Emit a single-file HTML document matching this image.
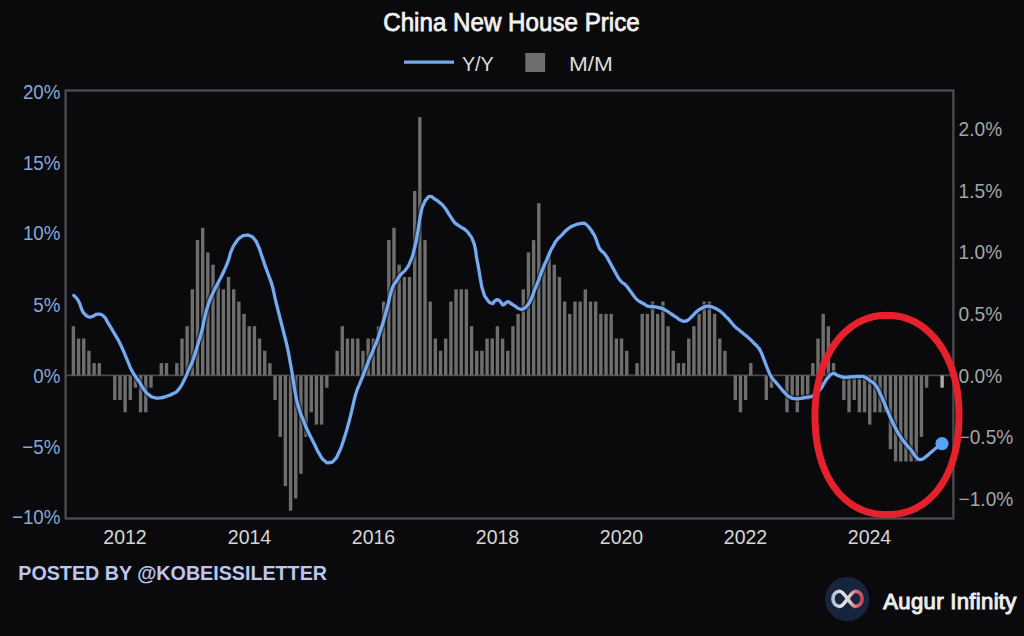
<!DOCTYPE html>
<html><head><meta charset="utf-8"><title>China New House Price</title>
<style>
html,body{margin:0;padding:0;background:#0a0a0d;width:1024px;height:636px;overflow:hidden}
svg{display:block}
text{font-family:'Liberation Sans', 'DejaVu Sans', sans-serif}
.yl{fill:#88a9d8;font-size:20.6px}
.yr{fill:#a6a6a6;font-size:20px}
.xl{fill:#d6d6d6;font-size:19.5px}
</style></head>
<body>
<svg width="1024" height="636" viewBox="0 0 1024 636">
<rect width="1024" height="636" fill="#0a0a0d"/>
<text x="383.2" y="31.2" textLength="256.5" lengthAdjust="spacingAndGlyphs" style="font-size:25.5px;fill:#f2f2f2;stroke:#f2f2f2;stroke-width:0.75px">China New House Price</text>
<line x1="404" y1="62.2" x2="454" y2="62.2" stroke="#76aae8" stroke-width="3.2"/>
<text x="461.9" y="70.8" textLength="31.9" lengthAdjust="spacingAndGlyphs" style="font-size:19.5px;fill:#dcdcdc">Y/Y</text>
<rect x="525.3" y="52.9" width="19.8" height="19.1" fill="#6e6e6e"/>
<text x="569" y="70.8" textLength="43.9" lengthAdjust="spacingAndGlyphs" style="font-size:19.5px;fill:#dcdcdc">M/M</text>
<rect x="65.6" y="90.5" width="887.8" height="428" fill="none" stroke="#4a4c51" stroke-width="2.3"/>
<line x1="65.6" y1="375.4" x2="953.4" y2="375.4" stroke="#48484d" stroke-width="1.7"/>
<rect x="71.70" y="326.20" width="3.4" height="49.20" fill="#6e6e6d"/>
<rect x="76.87" y="338.50" width="3.4" height="36.90" fill="#6e6e6d"/>
<rect x="82.04" y="338.50" width="3.4" height="36.90" fill="#6e6e6d"/>
<rect x="87.21" y="350.80" width="3.4" height="24.60" fill="#6e6e6d"/>
<rect x="92.38" y="363.10" width="3.4" height="12.30" fill="#6e6e6d"/>
<rect x="97.56" y="363.10" width="3.4" height="12.30" fill="#6e6e6d"/>
<rect x="113.07" y="375.40" width="3.4" height="24.60" fill="#6e6e6d"/>
<rect x="118.24" y="375.40" width="3.4" height="24.60" fill="#6e6e6d"/>
<rect x="123.41" y="375.40" width="3.4" height="36.90" fill="#6e6e6d"/>
<rect x="128.58" y="375.40" width="3.4" height="24.60" fill="#6e6e6d"/>
<rect x="133.75" y="375.40" width="3.4" height="12.30" fill="#6e6e6d"/>
<rect x="138.92" y="375.40" width="3.4" height="36.90" fill="#6e6e6d"/>
<rect x="144.09" y="375.40" width="3.4" height="36.90" fill="#6e6e6d"/>
<rect x="149.27" y="375.40" width="3.4" height="12.30" fill="#6e6e6d"/>
<rect x="159.61" y="363.10" width="3.4" height="12.30" fill="#6e6e6d"/>
<rect x="164.78" y="363.10" width="3.4" height="12.30" fill="#6e6e6d"/>
<rect x="175.12" y="363.10" width="3.4" height="12.30" fill="#6e6e6d"/>
<rect x="180.29" y="338.50" width="3.4" height="36.90" fill="#6e6e6d"/>
<rect x="185.46" y="326.20" width="3.4" height="49.20" fill="#6e6e6d"/>
<rect x="190.63" y="289.30" width="3.4" height="86.10" fill="#6e6e6d"/>
<rect x="195.80" y="240.10" width="3.4" height="135.30" fill="#6e6e6d"/>
<rect x="200.98" y="227.80" width="3.4" height="147.60" fill="#6e6e6d"/>
<rect x="206.15" y="252.40" width="3.4" height="123.00" fill="#6e6e6d"/>
<rect x="211.32" y="264.70" width="3.4" height="110.70" fill="#6e6e6d"/>
<rect x="216.49" y="283.15" width="3.4" height="92.25" fill="#6e6e6d"/>
<rect x="221.66" y="289.30" width="3.4" height="86.10" fill="#6e6e6d"/>
<rect x="226.83" y="277.00" width="3.4" height="98.40" fill="#6e6e6d"/>
<rect x="232.00" y="289.30" width="3.4" height="86.10" fill="#6e6e6d"/>
<rect x="237.17" y="301.60" width="3.4" height="73.80" fill="#6e6e6d"/>
<rect x="242.34" y="313.90" width="3.4" height="61.50" fill="#6e6e6d"/>
<rect x="247.51" y="326.20" width="3.4" height="49.20" fill="#6e6e6d"/>
<rect x="252.69" y="326.20" width="3.4" height="49.20" fill="#6e6e6d"/>
<rect x="257.86" y="338.50" width="3.4" height="36.90" fill="#6e6e6d"/>
<rect x="263.03" y="350.80" width="3.4" height="24.60" fill="#6e6e6d"/>
<rect x="268.20" y="363.10" width="3.4" height="12.30" fill="#6e6e6d"/>
<rect x="273.37" y="375.40" width="3.4" height="24.60" fill="#6e6e6d"/>
<rect x="278.54" y="375.40" width="3.4" height="61.50" fill="#6e6e6d"/>
<rect x="283.71" y="375.40" width="3.4" height="110.70" fill="#6e6e6d"/>
<rect x="288.88" y="375.40" width="3.4" height="135.30" fill="#6e6e6d"/>
<rect x="294.05" y="375.40" width="3.4" height="123.00" fill="#6e6e6d"/>
<rect x="299.22" y="375.40" width="3.4" height="98.40" fill="#6e6e6d"/>
<rect x="304.40" y="375.40" width="3.4" height="61.50" fill="#6e6e6d"/>
<rect x="309.57" y="375.40" width="3.4" height="36.90" fill="#6e6e6d"/>
<rect x="314.74" y="375.40" width="3.4" height="49.20" fill="#6e6e6d"/>
<rect x="319.91" y="375.40" width="3.4" height="49.20" fill="#6e6e6d"/>
<rect x="325.08" y="375.40" width="3.4" height="12.30" fill="#6e6e6d"/>
<rect x="335.42" y="350.80" width="3.4" height="24.60" fill="#6e6e6d"/>
<rect x="340.59" y="326.20" width="3.4" height="49.20" fill="#6e6e6d"/>
<rect x="345.76" y="338.50" width="3.4" height="36.90" fill="#6e6e6d"/>
<rect x="350.93" y="338.50" width="3.4" height="36.90" fill="#6e6e6d"/>
<rect x="356.11" y="338.50" width="3.4" height="36.90" fill="#6e6e6d"/>
<rect x="361.28" y="350.80" width="3.4" height="24.60" fill="#6e6e6d"/>
<rect x="366.45" y="338.50" width="3.4" height="36.90" fill="#6e6e6d"/>
<rect x="371.62" y="338.50" width="3.4" height="36.90" fill="#6e6e6d"/>
<rect x="376.79" y="326.20" width="3.4" height="49.20" fill="#6e6e6d"/>
<rect x="381.96" y="301.60" width="3.4" height="73.80" fill="#6e6e6d"/>
<rect x="387.13" y="240.10" width="3.4" height="135.30" fill="#6e6e6d"/>
<rect x="392.30" y="227.80" width="3.4" height="147.60" fill="#6e6e6d"/>
<rect x="397.47" y="264.70" width="3.4" height="110.70" fill="#6e6e6d"/>
<rect x="402.64" y="277.00" width="3.4" height="98.40" fill="#6e6e6d"/>
<rect x="407.81" y="277.00" width="3.4" height="98.40" fill="#6e6e6d"/>
<rect x="412.99" y="190.90" width="3.4" height="184.50" fill="#6e6e6d"/>
<rect x="418.16" y="117.10" width="3.4" height="258.30" fill="#6e6e6d"/>
<rect x="423.33" y="240.10" width="3.4" height="135.30" fill="#6e6e6d"/>
<rect x="428.50" y="301.60" width="3.4" height="73.80" fill="#6e6e6d"/>
<rect x="433.67" y="338.50" width="3.4" height="36.90" fill="#6e6e6d"/>
<rect x="438.84" y="350.80" width="3.4" height="24.60" fill="#6e6e6d"/>
<rect x="444.01" y="338.50" width="3.4" height="36.90" fill="#6e6e6d"/>
<rect x="449.18" y="301.60" width="3.4" height="73.80" fill="#6e6e6d"/>
<rect x="454.35" y="289.30" width="3.4" height="86.10" fill="#6e6e6d"/>
<rect x="459.53" y="289.30" width="3.4" height="86.10" fill="#6e6e6d"/>
<rect x="464.70" y="289.30" width="3.4" height="86.10" fill="#6e6e6d"/>
<rect x="469.87" y="326.20" width="3.4" height="49.20" fill="#6e6e6d"/>
<rect x="475.04" y="350.80" width="3.4" height="24.60" fill="#6e6e6d"/>
<rect x="480.21" y="350.80" width="3.4" height="24.60" fill="#6e6e6d"/>
<rect x="485.38" y="338.50" width="3.4" height="36.90" fill="#6e6e6d"/>
<rect x="490.55" y="338.50" width="3.4" height="36.90" fill="#6e6e6d"/>
<rect x="495.72" y="326.20" width="3.4" height="49.20" fill="#6e6e6d"/>
<rect x="500.89" y="338.50" width="3.4" height="36.90" fill="#6e6e6d"/>
<rect x="506.06" y="350.80" width="3.4" height="24.60" fill="#6e6e6d"/>
<rect x="511.24" y="326.20" width="3.4" height="49.20" fill="#6e6e6d"/>
<rect x="516.41" y="313.90" width="3.4" height="61.50" fill="#6e6e6d"/>
<rect x="521.58" y="289.30" width="3.4" height="86.10" fill="#6e6e6d"/>
<rect x="526.75" y="252.40" width="3.4" height="123.00" fill="#6e6e6d"/>
<rect x="531.92" y="240.10" width="3.4" height="135.30" fill="#6e6e6d"/>
<rect x="537.09" y="203.20" width="3.4" height="172.20" fill="#6e6e6d"/>
<rect x="542.26" y="264.70" width="3.4" height="110.70" fill="#6e6e6d"/>
<rect x="547.43" y="252.40" width="3.4" height="123.00" fill="#6e6e6d"/>
<rect x="552.60" y="264.70" width="3.4" height="110.70" fill="#6e6e6d"/>
<rect x="557.77" y="277.00" width="3.4" height="98.40" fill="#6e6e6d"/>
<rect x="562.94" y="301.60" width="3.4" height="73.80" fill="#6e6e6d"/>
<rect x="568.12" y="313.90" width="3.4" height="61.50" fill="#6e6e6d"/>
<rect x="573.29" y="301.60" width="3.4" height="73.80" fill="#6e6e6d"/>
<rect x="578.46" y="301.60" width="3.4" height="73.80" fill="#6e6e6d"/>
<rect x="583.63" y="289.30" width="3.4" height="86.10" fill="#6e6e6d"/>
<rect x="588.80" y="301.60" width="3.4" height="73.80" fill="#6e6e6d"/>
<rect x="593.97" y="301.60" width="3.4" height="73.80" fill="#6e6e6d"/>
<rect x="599.14" y="313.90" width="3.4" height="61.50" fill="#6e6e6d"/>
<rect x="604.31" y="313.90" width="3.4" height="61.50" fill="#6e6e6d"/>
<rect x="609.48" y="313.90" width="3.4" height="61.50" fill="#6e6e6d"/>
<rect x="614.65" y="338.50" width="3.4" height="36.90" fill="#6e6e6d"/>
<rect x="619.83" y="338.50" width="3.4" height="36.90" fill="#6e6e6d"/>
<rect x="625.00" y="350.80" width="3.4" height="24.60" fill="#6e6e6d"/>
<rect x="635.34" y="363.10" width="3.4" height="12.30" fill="#6e6e6d"/>
<rect x="640.51" y="313.90" width="3.4" height="61.50" fill="#6e6e6d"/>
<rect x="645.68" y="313.90" width="3.4" height="61.50" fill="#6e6e6d"/>
<rect x="650.85" y="301.60" width="3.4" height="73.80" fill="#6e6e6d"/>
<rect x="656.02" y="313.90" width="3.4" height="61.50" fill="#6e6e6d"/>
<rect x="661.19" y="301.60" width="3.4" height="73.80" fill="#6e6e6d"/>
<rect x="666.37" y="326.20" width="3.4" height="49.20" fill="#6e6e6d"/>
<rect x="671.54" y="350.80" width="3.4" height="24.60" fill="#6e6e6d"/>
<rect x="676.71" y="363.10" width="3.4" height="12.30" fill="#6e6e6d"/>
<rect x="681.88" y="363.10" width="3.4" height="12.30" fill="#6e6e6d"/>
<rect x="687.05" y="338.50" width="3.4" height="36.90" fill="#6e6e6d"/>
<rect x="692.22" y="326.20" width="3.4" height="49.20" fill="#6e6e6d"/>
<rect x="697.39" y="313.90" width="3.4" height="61.50" fill="#6e6e6d"/>
<rect x="702.56" y="301.60" width="3.4" height="73.80" fill="#6e6e6d"/>
<rect x="707.73" y="301.60" width="3.4" height="73.80" fill="#6e6e6d"/>
<rect x="712.90" y="313.90" width="3.4" height="61.50" fill="#6e6e6d"/>
<rect x="718.07" y="338.50" width="3.4" height="36.90" fill="#6e6e6d"/>
<rect x="723.25" y="350.80" width="3.4" height="24.60" fill="#6e6e6d"/>
<rect x="733.59" y="375.40" width="3.4" height="24.60" fill="#6e6e6d"/>
<rect x="738.76" y="375.40" width="3.4" height="36.90" fill="#6e6e6d"/>
<rect x="743.93" y="375.40" width="3.4" height="24.60" fill="#6e6e6d"/>
<rect x="749.10" y="363.10" width="3.4" height="12.30" fill="#6e6e6d"/>
<rect x="764.61" y="375.40" width="3.4" height="24.60" fill="#6e6e6d"/>
<rect x="769.78" y="375.40" width="3.4" height="12.30" fill="#6e6e6d"/>
<rect x="785.30" y="375.40" width="3.4" height="36.90" fill="#6e6e6d"/>
<rect x="790.47" y="375.40" width="3.4" height="24.60" fill="#6e6e6d"/>
<rect x="795.64" y="375.40" width="3.4" height="36.90" fill="#6e6e6d"/>
<rect x="800.81" y="375.40" width="3.4" height="24.60" fill="#6e6e6d"/>
<rect x="805.98" y="375.40" width="3.4" height="24.60" fill="#6e6e6d"/>
<rect x="811.15" y="363.10" width="3.4" height="12.30" fill="#6e6e6d"/>
<rect x="816.32" y="338.50" width="3.4" height="36.90" fill="#6e6e6d"/>
<rect x="821.50" y="313.90" width="3.4" height="61.50" fill="#6e6e6d"/>
<rect x="826.67" y="326.20" width="3.4" height="49.20" fill="#6e6e6d"/>
<rect x="831.84" y="363.10" width="3.4" height="12.30" fill="#6e6e6d"/>
<rect x="842.18" y="375.40" width="3.4" height="24.60" fill="#6e6e6d"/>
<rect x="847.35" y="375.40" width="3.4" height="36.90" fill="#6e6e6d"/>
<rect x="852.52" y="375.40" width="3.4" height="24.60" fill="#6e6e6d"/>
<rect x="857.69" y="375.40" width="3.4" height="36.90" fill="#6e6e6d"/>
<rect x="862.86" y="375.40" width="3.4" height="36.90" fill="#6e6e6d"/>
<rect x="868.03" y="375.40" width="3.4" height="49.20" fill="#6e6e6d"/>
<rect x="873.20" y="375.40" width="3.4" height="36.90" fill="#6e6e6d"/>
<rect x="878.38" y="375.40" width="3.4" height="36.90" fill="#6e6e6d"/>
<rect x="883.55" y="375.40" width="3.4" height="36.90" fill="#6e6e6d"/>
<rect x="888.72" y="375.40" width="3.4" height="73.80" fill="#6e6e6d"/>
<rect x="893.89" y="375.40" width="3.4" height="86.10" fill="#6e6e6d"/>
<rect x="899.06" y="375.40" width="3.4" height="86.10" fill="#6e6e6d"/>
<rect x="904.23" y="375.40" width="3.4" height="86.10" fill="#6e6e6d"/>
<rect x="909.40" y="375.40" width="3.4" height="86.10" fill="#6e6e6d"/>
<rect x="914.57" y="375.40" width="3.4" height="86.10" fill="#6e6e6d"/>
<rect x="919.74" y="375.40" width="3.4" height="61.50" fill="#6e6e6d"/>
<rect x="924.91" y="375.40" width="3.4" height="12.30" fill="#6e6e6d"/>
<rect x="940.43" y="375.40" width="3.4" height="12.30" fill="#a9a9a9"/>
<path d="M73.9,295.4 C75.4,297.3 75.9,296.3 78.5,301.0 C81.1,305.7 79.8,305.3 81.8,309.5 C83.8,313.7 82.1,311.2 84.4,313.6 C86.7,316.0 85.9,315.9 88.6,316.8 C91.3,317.7 89.4,317.2 92.6,316.3 C95.8,315.4 94.4,314.1 98.1,314.1 C101.8,314.1 100.3,313.4 103.6,316.3 C106.9,319.2 104.3,317.0 108.0,322.9 C111.7,328.8 110.2,326.2 114.6,333.9 C119.0,341.6 116.8,336.8 121.2,346.0 C125.6,355.2 124.1,353.0 127.8,361.4 C131.5,369.8 128.5,364.7 132.2,371.3 C135.9,377.9 134.6,374.8 138.8,381.2 C143.0,387.6 141.2,385.8 144.7,390.4 C148.2,395.0 146.2,392.7 149.4,395.1 C152.6,397.5 150.5,396.6 154.2,397.5 C157.9,398.4 156.2,398.2 160.4,397.8 C164.6,397.4 162.5,397.6 166.7,396.2 C170.9,394.8 169.1,395.8 173.0,393.6 C176.9,391.4 174.8,394.1 178.5,389.6 C182.2,385.1 180.7,386.7 184.2,380.0 C187.7,373.3 185.8,376.7 188.9,369.4 C192.0,362.1 190.5,366.9 193.6,358.1 C196.7,349.3 195.5,352.4 198.3,343.0 C201.1,333.6 199.9,338.6 202.1,329.8 C204.3,321.0 202.7,325.4 204.9,316.6 C207.1,307.8 205.9,311.6 208.7,303.4 C211.5,295.2 209.9,299.6 213.4,292.1 C216.9,284.6 215.6,287.7 219.1,280.8 C222.6,273.9 220.7,278.2 223.8,271.3 C226.9,264.4 226.0,266.9 228.5,260.0 C231.0,253.1 228.8,256.7 231.4,250.7 C234.0,244.7 233.0,246.5 236.2,242.0 C239.4,237.5 237.8,239.4 240.9,237.2 C244.0,235.0 242.5,235.7 245.6,235.3 C248.7,234.9 247.3,234.6 250.3,236.0 C253.3,237.4 252.0,236.2 254.6,239.4 C257.2,242.6 255.8,240.6 258.0,245.5 C260.2,250.4 259.1,248.2 261.2,254.2 C263.3,260.2 262.1,256.9 264.4,263.6 C266.7,270.3 265.6,266.7 268.2,274.2 C270.8,281.7 269.9,277.4 272.3,286.0 C274.7,294.6 273.1,290.1 275.5,300.0 C277.9,309.9 276.8,305.2 279.4,315.7 C282.0,326.2 280.8,320.9 283.4,331.4 C286.0,341.9 284.9,336.3 287.3,347.2 C289.7,358.1 288.5,353.1 290.5,364.0 C292.5,374.9 291.5,370.0 293.2,380.0 C294.9,390.0 293.6,384.6 295.5,394.0 C297.4,403.4 296.2,399.3 298.9,408.3 C301.6,417.3 300.5,413.0 303.6,420.9 C306.7,428.8 304.9,424.6 308.3,431.9 C311.7,439.2 310.1,435.6 313.8,442.9 C317.5,450.2 315.6,447.9 319.3,453.9 C323.0,459.9 321.4,458.1 324.8,461.0 C328.2,463.9 326.4,462.8 329.5,462.5 C332.6,462.2 331.0,463.6 334.2,460.2 C337.4,456.8 335.8,459.1 339.0,452.3 C342.2,445.5 340.6,449.1 343.7,439.7 C346.8,430.3 345.5,434.5 348.4,424.0 C351.3,413.5 349.8,418.5 352.3,408.3 C354.8,398.1 353.4,401.9 356.0,393.5 C358.6,385.1 357.2,390.1 360.0,383.0 C362.8,375.9 361.3,380.1 364.3,372.3 C367.3,364.5 366.2,367.1 369.1,359.7 C372.0,352.3 369.4,359.6 373.1,350.2 C376.8,340.8 375.5,345.5 380.2,331.4 C384.9,317.3 383.4,321.6 387.2,307.8 C391.0,294.0 388.6,298.9 391.7,290.0 C394.8,281.1 393.2,286.5 396.4,281.2 C399.6,275.9 398.0,278.0 401.2,274.1 C404.4,270.2 402.8,273.8 405.9,269.4 C409.0,265.0 407.7,267.9 410.6,260.8 C413.5,253.7 412.1,257.6 414.5,248.2 C416.9,238.8 415.6,244.0 417.7,232.5 C419.8,221.0 418.7,223.3 420.8,213.6 C422.9,203.9 421.9,208.4 424.0,203.4 C426.1,198.4 425.0,201.0 427.1,198.6 C429.2,196.2 427.9,196.3 430.3,196.3 C432.7,196.3 431.1,196.5 434.2,198.6 C437.3,200.7 436.3,199.7 439.7,202.6 C443.1,205.5 441.3,203.4 444.4,207.3 C447.5,211.2 446.0,209.7 449.1,214.4 C452.2,219.1 451.4,218.2 453.8,221.4 C456.2,224.6 453.9,222.0 456.3,223.9 C458.7,225.8 457.9,225.0 461.0,227.1 C464.1,229.2 462.8,227.6 465.7,230.2 C468.6,232.8 467.3,231.5 469.7,234.9 C472.1,238.3 471.0,235.9 472.8,240.4 C474.6,244.9 473.9,242.5 475.2,248.3 C476.5,254.1 475.4,250.9 476.6,257.7 C477.8,264.5 477.3,260.8 478.7,268.7 C480.1,276.6 479.4,273.9 480.8,281.3 C482.2,288.7 481.2,285.1 483.0,290.8 C484.8,296.5 483.4,294.1 486.3,298.3 C489.2,302.5 488.9,302.4 491.7,303.3 C494.5,304.2 492.7,302.1 494.8,301.0 C496.9,299.9 495.9,299.4 498.0,299.9 C500.1,300.4 499.3,300.8 501.1,302.5 C502.9,304.2 501.4,305.1 503.5,304.9 C505.6,304.7 505.1,302.3 507.4,301.8 C509.7,301.3 508.1,302.0 510.5,303.3 C512.9,304.6 511.6,303.9 514.5,305.7 C517.4,307.5 516.3,307.8 519.2,308.8 C522.1,309.8 520.5,309.8 523.1,308.8 C525.7,307.8 524.4,308.8 527.0,305.7 C529.6,302.6 528.4,304.9 531.0,299.4 C533.6,293.9 532.3,295.8 534.9,289.2 C537.5,282.6 536.2,286.5 538.8,279.7 C541.4,272.9 540.1,275.5 542.8,268.7 C545.5,261.9 544.3,265.2 546.9,259.3 C549.5,253.4 548.5,255.3 550.5,251.0 C552.5,246.7 551.0,250.0 553.0,246.5 C555.0,243.0 553.5,244.4 556.5,240.5 C559.5,236.6 558.1,238.8 562.0,234.8 C565.9,230.8 563.9,231.9 568.3,228.6 C572.7,225.3 571.3,226.6 575.2,224.9 C579.1,223.2 577.5,224.1 580.0,223.6 C582.5,223.1 580.7,223.1 582.7,223.3 C584.7,223.5 583.4,222.3 585.9,224.2 C588.4,226.1 588.1,226.2 590.3,229.0 C592.5,231.8 590.9,229.8 592.6,232.6 C594.3,235.4 593.3,232.9 595.3,237.4 C597.3,241.9 596.7,242.0 598.5,246.2 C600.3,250.4 598.7,247.5 600.8,250.1 C602.9,252.7 602.1,250.6 604.7,254.0 C607.3,257.4 606.1,255.8 608.7,260.3 C611.3,264.8 610.0,262.7 612.6,267.4 C615.2,272.1 613.9,270.0 616.5,274.5 C619.1,279.0 617.6,277.4 620.5,280.8 C623.4,284.2 622.3,281.8 625.2,284.7 C628.1,287.6 626.5,286.0 629.1,289.4 C631.7,292.8 630.5,291.5 633.1,294.9 C635.7,298.3 634.5,297.2 637.0,299.6 C639.5,302.0 638.2,300.6 640.5,302.0 C642.8,303.4 641.4,302.4 643.9,303.8 C646.4,305.2 645.0,305.3 647.9,306.2 C650.8,307.1 649.5,306.1 652.6,306.5 C655.7,306.9 654.2,306.7 657.3,307.4 C660.4,308.1 658.9,307.3 662.0,308.5 C665.1,309.7 663.6,309.1 666.7,310.9 C669.8,312.7 668.2,311.9 671.4,314.0 C674.6,316.1 673.0,315.1 676.2,317.2 C679.4,319.3 678.0,319.0 680.9,320.3 C683.8,321.6 682.2,321.4 684.8,321.1 C687.4,320.8 686.1,321.3 688.7,319.5 C691.3,317.7 690.1,318.2 692.7,315.6 C695.3,313.0 693.7,314.1 696.6,311.7 C699.5,309.3 698.2,310.2 701.3,308.5 C704.4,306.8 703.1,307.2 706.0,306.5 C708.9,305.8 707.4,306.1 710.0,306.5 C712.6,306.9 711.0,306.5 713.9,307.7 C716.8,308.9 716.0,308.5 718.6,310.1 C721.2,311.7 719.4,310.4 721.8,312.5 C724.2,314.6 723.1,313.8 725.7,316.4 C728.3,319.0 726.6,317.0 729.6,320.3 C732.6,323.6 731.4,323.0 734.7,326.3 C738.0,329.6 736.2,327.6 739.4,330.2 C742.6,332.8 741.0,331.6 744.2,334.2 C747.4,336.8 745.8,335.2 748.9,338.1 C752.0,341.0 750.7,339.9 753.6,342.8 C756.5,345.7 755.1,343.8 757.5,346.7 C759.9,349.6 758.9,348.0 760.7,351.4 C762.5,354.8 761.4,353.1 763.0,357.0 C764.6,360.9 763.6,358.5 765.4,363.2 C767.2,367.9 766.4,366.4 768.5,371.1 C770.6,375.8 769.3,373.7 771.7,377.4 C774.1,381.1 772.7,378.7 775.6,382.1 C778.5,385.5 777.2,383.9 780.3,387.6 C783.4,391.3 781.9,390.0 785.0,393.1 C788.1,396.2 786.5,395.2 789.7,397.0 C792.9,398.8 791.3,398.1 794.5,398.6 C797.7,399.1 796.1,398.9 799.2,398.6 C802.3,398.3 800.8,398.3 803.9,397.8 C807.0,397.3 805.7,397.6 808.6,397.0 C811.5,396.4 809.9,397.5 812.5,396.0 C815.1,394.5 813.9,394.8 816.5,392.5 C819.1,390.2 817.8,392.4 820.4,389.2 C823.0,386.0 821.8,386.8 824.3,382.9 C826.8,379.0 825.1,380.6 828.0,377.5 C830.9,374.4 829.9,374.3 833.0,373.5 C836.1,372.7 834.1,374.0 837.3,375.2 C840.5,376.4 838.5,376.4 842.5,377.0 C846.5,377.6 843.6,377.2 849.4,377.0 C855.2,376.8 854.6,376.3 859.8,376.4 C865.0,376.5 861.5,375.8 865.0,377.3 C868.5,378.8 866.7,378.2 870.2,380.8 C873.7,383.4 871.9,380.5 875.4,385.1 C878.9,389.7 877.1,387.4 880.6,394.6 C884.1,401.8 882.3,398.6 885.8,406.7 C889.3,414.8 887.6,411.3 891.0,418.8 C894.4,426.3 892.7,422.8 896.1,429.2 C899.5,435.6 897.8,432.7 901.3,437.9 C904.8,443.1 903.0,440.5 906.5,444.8 C910.0,449.1 908.5,446.8 911.7,450.8 C914.9,454.8 913.1,454.0 916.0,456.9 C918.9,459.8 917.2,459.5 920.4,459.5 C923.6,459.5 922.2,459.2 925.6,456.9 C929.0,454.6 927.3,455.5 930.7,452.6 C934.1,449.7 932.1,451.3 935.9,448.3 C939.7,445.3 940.0,445.2 942.0,443.6" fill="none" stroke="#000a2a" stroke-opacity="0.5" stroke-width="6.5" stroke-linejoin="round" stroke-linecap="round"/>
<path d="M73.9,295.4 C75.4,297.3 75.9,296.3 78.5,301.0 C81.1,305.7 79.8,305.3 81.8,309.5 C83.8,313.7 82.1,311.2 84.4,313.6 C86.7,316.0 85.9,315.9 88.6,316.8 C91.3,317.7 89.4,317.2 92.6,316.3 C95.8,315.4 94.4,314.1 98.1,314.1 C101.8,314.1 100.3,313.4 103.6,316.3 C106.9,319.2 104.3,317.0 108.0,322.9 C111.7,328.8 110.2,326.2 114.6,333.9 C119.0,341.6 116.8,336.8 121.2,346.0 C125.6,355.2 124.1,353.0 127.8,361.4 C131.5,369.8 128.5,364.7 132.2,371.3 C135.9,377.9 134.6,374.8 138.8,381.2 C143.0,387.6 141.2,385.8 144.7,390.4 C148.2,395.0 146.2,392.7 149.4,395.1 C152.6,397.5 150.5,396.6 154.2,397.5 C157.9,398.4 156.2,398.2 160.4,397.8 C164.6,397.4 162.5,397.6 166.7,396.2 C170.9,394.8 169.1,395.8 173.0,393.6 C176.9,391.4 174.8,394.1 178.5,389.6 C182.2,385.1 180.7,386.7 184.2,380.0 C187.7,373.3 185.8,376.7 188.9,369.4 C192.0,362.1 190.5,366.9 193.6,358.1 C196.7,349.3 195.5,352.4 198.3,343.0 C201.1,333.6 199.9,338.6 202.1,329.8 C204.3,321.0 202.7,325.4 204.9,316.6 C207.1,307.8 205.9,311.6 208.7,303.4 C211.5,295.2 209.9,299.6 213.4,292.1 C216.9,284.6 215.6,287.7 219.1,280.8 C222.6,273.9 220.7,278.2 223.8,271.3 C226.9,264.4 226.0,266.9 228.5,260.0 C231.0,253.1 228.8,256.7 231.4,250.7 C234.0,244.7 233.0,246.5 236.2,242.0 C239.4,237.5 237.8,239.4 240.9,237.2 C244.0,235.0 242.5,235.7 245.6,235.3 C248.7,234.9 247.3,234.6 250.3,236.0 C253.3,237.4 252.0,236.2 254.6,239.4 C257.2,242.6 255.8,240.6 258.0,245.5 C260.2,250.4 259.1,248.2 261.2,254.2 C263.3,260.2 262.1,256.9 264.4,263.6 C266.7,270.3 265.6,266.7 268.2,274.2 C270.8,281.7 269.9,277.4 272.3,286.0 C274.7,294.6 273.1,290.1 275.5,300.0 C277.9,309.9 276.8,305.2 279.4,315.7 C282.0,326.2 280.8,320.9 283.4,331.4 C286.0,341.9 284.9,336.3 287.3,347.2 C289.7,358.1 288.5,353.1 290.5,364.0 C292.5,374.9 291.5,370.0 293.2,380.0 C294.9,390.0 293.6,384.6 295.5,394.0 C297.4,403.4 296.2,399.3 298.9,408.3 C301.6,417.3 300.5,413.0 303.6,420.9 C306.7,428.8 304.9,424.6 308.3,431.9 C311.7,439.2 310.1,435.6 313.8,442.9 C317.5,450.2 315.6,447.9 319.3,453.9 C323.0,459.9 321.4,458.1 324.8,461.0 C328.2,463.9 326.4,462.8 329.5,462.5 C332.6,462.2 331.0,463.6 334.2,460.2 C337.4,456.8 335.8,459.1 339.0,452.3 C342.2,445.5 340.6,449.1 343.7,439.7 C346.8,430.3 345.5,434.5 348.4,424.0 C351.3,413.5 349.8,418.5 352.3,408.3 C354.8,398.1 353.4,401.9 356.0,393.5 C358.6,385.1 357.2,390.1 360.0,383.0 C362.8,375.9 361.3,380.1 364.3,372.3 C367.3,364.5 366.2,367.1 369.1,359.7 C372.0,352.3 369.4,359.6 373.1,350.2 C376.8,340.8 375.5,345.5 380.2,331.4 C384.9,317.3 383.4,321.6 387.2,307.8 C391.0,294.0 388.6,298.9 391.7,290.0 C394.8,281.1 393.2,286.5 396.4,281.2 C399.6,275.9 398.0,278.0 401.2,274.1 C404.4,270.2 402.8,273.8 405.9,269.4 C409.0,265.0 407.7,267.9 410.6,260.8 C413.5,253.7 412.1,257.6 414.5,248.2 C416.9,238.8 415.6,244.0 417.7,232.5 C419.8,221.0 418.7,223.3 420.8,213.6 C422.9,203.9 421.9,208.4 424.0,203.4 C426.1,198.4 425.0,201.0 427.1,198.6 C429.2,196.2 427.9,196.3 430.3,196.3 C432.7,196.3 431.1,196.5 434.2,198.6 C437.3,200.7 436.3,199.7 439.7,202.6 C443.1,205.5 441.3,203.4 444.4,207.3 C447.5,211.2 446.0,209.7 449.1,214.4 C452.2,219.1 451.4,218.2 453.8,221.4 C456.2,224.6 453.9,222.0 456.3,223.9 C458.7,225.8 457.9,225.0 461.0,227.1 C464.1,229.2 462.8,227.6 465.7,230.2 C468.6,232.8 467.3,231.5 469.7,234.9 C472.1,238.3 471.0,235.9 472.8,240.4 C474.6,244.9 473.9,242.5 475.2,248.3 C476.5,254.1 475.4,250.9 476.6,257.7 C477.8,264.5 477.3,260.8 478.7,268.7 C480.1,276.6 479.4,273.9 480.8,281.3 C482.2,288.7 481.2,285.1 483.0,290.8 C484.8,296.5 483.4,294.1 486.3,298.3 C489.2,302.5 488.9,302.4 491.7,303.3 C494.5,304.2 492.7,302.1 494.8,301.0 C496.9,299.9 495.9,299.4 498.0,299.9 C500.1,300.4 499.3,300.8 501.1,302.5 C502.9,304.2 501.4,305.1 503.5,304.9 C505.6,304.7 505.1,302.3 507.4,301.8 C509.7,301.3 508.1,302.0 510.5,303.3 C512.9,304.6 511.6,303.9 514.5,305.7 C517.4,307.5 516.3,307.8 519.2,308.8 C522.1,309.8 520.5,309.8 523.1,308.8 C525.7,307.8 524.4,308.8 527.0,305.7 C529.6,302.6 528.4,304.9 531.0,299.4 C533.6,293.9 532.3,295.8 534.9,289.2 C537.5,282.6 536.2,286.5 538.8,279.7 C541.4,272.9 540.1,275.5 542.8,268.7 C545.5,261.9 544.3,265.2 546.9,259.3 C549.5,253.4 548.5,255.3 550.5,251.0 C552.5,246.7 551.0,250.0 553.0,246.5 C555.0,243.0 553.5,244.4 556.5,240.5 C559.5,236.6 558.1,238.8 562.0,234.8 C565.9,230.8 563.9,231.9 568.3,228.6 C572.7,225.3 571.3,226.6 575.2,224.9 C579.1,223.2 577.5,224.1 580.0,223.6 C582.5,223.1 580.7,223.1 582.7,223.3 C584.7,223.5 583.4,222.3 585.9,224.2 C588.4,226.1 588.1,226.2 590.3,229.0 C592.5,231.8 590.9,229.8 592.6,232.6 C594.3,235.4 593.3,232.9 595.3,237.4 C597.3,241.9 596.7,242.0 598.5,246.2 C600.3,250.4 598.7,247.5 600.8,250.1 C602.9,252.7 602.1,250.6 604.7,254.0 C607.3,257.4 606.1,255.8 608.7,260.3 C611.3,264.8 610.0,262.7 612.6,267.4 C615.2,272.1 613.9,270.0 616.5,274.5 C619.1,279.0 617.6,277.4 620.5,280.8 C623.4,284.2 622.3,281.8 625.2,284.7 C628.1,287.6 626.5,286.0 629.1,289.4 C631.7,292.8 630.5,291.5 633.1,294.9 C635.7,298.3 634.5,297.2 637.0,299.6 C639.5,302.0 638.2,300.6 640.5,302.0 C642.8,303.4 641.4,302.4 643.9,303.8 C646.4,305.2 645.0,305.3 647.9,306.2 C650.8,307.1 649.5,306.1 652.6,306.5 C655.7,306.9 654.2,306.7 657.3,307.4 C660.4,308.1 658.9,307.3 662.0,308.5 C665.1,309.7 663.6,309.1 666.7,310.9 C669.8,312.7 668.2,311.9 671.4,314.0 C674.6,316.1 673.0,315.1 676.2,317.2 C679.4,319.3 678.0,319.0 680.9,320.3 C683.8,321.6 682.2,321.4 684.8,321.1 C687.4,320.8 686.1,321.3 688.7,319.5 C691.3,317.7 690.1,318.2 692.7,315.6 C695.3,313.0 693.7,314.1 696.6,311.7 C699.5,309.3 698.2,310.2 701.3,308.5 C704.4,306.8 703.1,307.2 706.0,306.5 C708.9,305.8 707.4,306.1 710.0,306.5 C712.6,306.9 711.0,306.5 713.9,307.7 C716.8,308.9 716.0,308.5 718.6,310.1 C721.2,311.7 719.4,310.4 721.8,312.5 C724.2,314.6 723.1,313.8 725.7,316.4 C728.3,319.0 726.6,317.0 729.6,320.3 C732.6,323.6 731.4,323.0 734.7,326.3 C738.0,329.6 736.2,327.6 739.4,330.2 C742.6,332.8 741.0,331.6 744.2,334.2 C747.4,336.8 745.8,335.2 748.9,338.1 C752.0,341.0 750.7,339.9 753.6,342.8 C756.5,345.7 755.1,343.8 757.5,346.7 C759.9,349.6 758.9,348.0 760.7,351.4 C762.5,354.8 761.4,353.1 763.0,357.0 C764.6,360.9 763.6,358.5 765.4,363.2 C767.2,367.9 766.4,366.4 768.5,371.1 C770.6,375.8 769.3,373.7 771.7,377.4 C774.1,381.1 772.7,378.7 775.6,382.1 C778.5,385.5 777.2,383.9 780.3,387.6 C783.4,391.3 781.9,390.0 785.0,393.1 C788.1,396.2 786.5,395.2 789.7,397.0 C792.9,398.8 791.3,398.1 794.5,398.6 C797.7,399.1 796.1,398.9 799.2,398.6 C802.3,398.3 800.8,398.3 803.9,397.8 C807.0,397.3 805.7,397.6 808.6,397.0 C811.5,396.4 809.9,397.5 812.5,396.0 C815.1,394.5 813.9,394.8 816.5,392.5 C819.1,390.2 817.8,392.4 820.4,389.2 C823.0,386.0 821.8,386.8 824.3,382.9 C826.8,379.0 825.1,380.6 828.0,377.5 C830.9,374.4 829.9,374.3 833.0,373.5 C836.1,372.7 834.1,374.0 837.3,375.2 C840.5,376.4 838.5,376.4 842.5,377.0 C846.5,377.6 843.6,377.2 849.4,377.0 C855.2,376.8 854.6,376.3 859.8,376.4 C865.0,376.5 861.5,375.8 865.0,377.3 C868.5,378.8 866.7,378.2 870.2,380.8 C873.7,383.4 871.9,380.5 875.4,385.1 C878.9,389.7 877.1,387.4 880.6,394.6 C884.1,401.8 882.3,398.6 885.8,406.7 C889.3,414.8 887.6,411.3 891.0,418.8 C894.4,426.3 892.7,422.8 896.1,429.2 C899.5,435.6 897.8,432.7 901.3,437.9 C904.8,443.1 903.0,440.5 906.5,444.8 C910.0,449.1 908.5,446.8 911.7,450.8 C914.9,454.8 913.1,454.0 916.0,456.9 C918.9,459.8 917.2,459.5 920.4,459.5 C923.6,459.5 922.2,459.2 925.6,456.9 C929.0,454.6 927.3,455.5 930.7,452.6 C934.1,449.7 932.1,451.3 935.9,448.3 C939.7,445.3 940.0,445.2 942.0,443.6" fill="none" stroke="#76aae8" stroke-width="3.3" stroke-linejoin="round" stroke-linecap="round"/>
<circle cx="942" cy="443.6" r="6.6" fill="#54a3f6"/>
<text transform="translate(60.4,99.1) scale(0.91,1)" text-anchor="end" class="yl">20%</text>
<text transform="translate(60.4,169.5) scale(0.91,1)" text-anchor="end" class="yl">15%</text>
<text transform="translate(60.4,240.1) scale(0.91,1)" text-anchor="end" class="yl">10%</text>
<text transform="translate(60.4,311.6) scale(0.91,1)" text-anchor="end" class="yl">5%</text>
<text transform="translate(60.4,382.7) scale(0.91,1)" text-anchor="end" class="yl">0%</text>
<text transform="translate(60.4,453.8) scale(0.91,1)" text-anchor="end" class="yl">−5%</text>
<text transform="translate(60.4,524.3) scale(0.91,1)" text-anchor="end" class="yl">−10%</text>
<text transform="translate(958.6,136.3) scale(0.955,1)" class="yr">2.0%</text>
<text transform="translate(958.6,197.8) scale(0.955,1)" class="yr">1.5%</text>
<text transform="translate(958.6,259.3) scale(0.955,1)" class="yr">1.0%</text>
<text transform="translate(958.6,320.8) scale(0.955,1)" class="yr">0.5%</text>
<text transform="translate(958.6,382.5) scale(0.955,1)" class="yr">0.0%</text>
<text transform="translate(958.6,444.2) scale(0.955,1)" class="yr">−0.5%</text>
<text transform="translate(958.6,505.7) scale(0.955,1)" class="yr">−1.0%</text>
<text x="125" y="543.8" text-anchor="middle" class="xl">2012</text>
<text x="249.5" y="543.8" text-anchor="middle" class="xl">2014</text>
<text x="373.5" y="543.8" text-anchor="middle" class="xl">2016</text>
<text x="497.5" y="543.8" text-anchor="middle" class="xl">2018</text>
<text x="621.5" y="543.8" text-anchor="middle" class="xl">2020</text>
<text x="745.5" y="543.8" text-anchor="middle" class="xl">2022</text>
<text x="869.5" y="543.8" text-anchor="middle" class="xl">2024</text>
<path d="M959.0,414.9 L959.0,419.6 L958.8,423.8 L958.6,427.7 L958.4,431.5 L958.0,435.2 L957.6,438.8 L957.1,442.3 L956.5,445.8 L955.8,449.1 L955.0,452.5 L954.2,455.7 L953.3,458.9 L952.3,462.0 L951.3,465.0 L950.2,467.9 L949.0,470.8 L947.7,473.6 L946.4,476.3 L945.0,479.0 L943.5,481.5 L942.0,484.0 L940.4,486.4 L938.7,488.7 L937.0,490.9 L935.2,493.1 L933.3,495.1 L931.4,497.0 L929.4,498.9 L927.4,500.6 L925.3,502.3 L923.2,503.8 L921.0,505.3 L918.8,506.6 L916.5,507.9 L914.1,509.0 L911.8,510.1 L909.3,511.0 L906.8,511.8 L904.3,512.5 L901.7,513.1 L899.0,513.6 L896.2,514.0 L893.4,514.3 L890.4,514.4 L887.0,514.5 L883.6,514.4 L880.6,514.3 L877.8,514.0 L875.0,513.6 L872.3,513.1 L869.7,512.5 L867.2,511.8 L864.7,511.0 L862.2,510.1 L859.9,509.0 L857.5,507.9 L855.2,506.6 L853.0,505.3 L850.8,503.8 L848.7,502.3 L846.6,500.6 L844.6,498.9 L842.6,497.0 L840.7,495.1 L838.8,493.1 L837.0,490.9 L835.3,488.7 L833.6,486.4 L832.0,484.0 L830.5,481.5 L829.0,479.0 L827.6,476.3 L826.3,473.6 L825.0,470.8 L823.8,467.9 L822.7,465.0 L821.7,462.0 L820.7,458.9 L819.8,455.7 L819.0,452.5 L818.2,449.1 L817.5,445.8 L816.9,442.3 L816.4,438.8 L816.0,435.2 L815.6,431.5 L815.4,427.7 L815.2,423.8 L815.0,419.6 L815.0,414.9 L815.0,410.8 L815.2,407.0 L815.4,403.3 L815.7,399.7 L816.0,396.1 L816.5,392.6 L817.0,389.1 L817.7,385.7 L818.4,382.4 L819.1,379.0 L820.0,375.8 L820.9,372.6 L822.0,369.5 L823.0,366.4 L824.2,363.4 L825.5,360.5 L826.8,357.6 L828.2,354.9 L829.6,352.1 L831.1,349.5 L832.7,347.0 L834.4,344.5 L836.1,342.1 L837.9,339.8 L839.7,337.6 L841.6,335.5 L843.6,333.5 L845.6,331.6 L847.7,329.8 L849.8,328.1 L852.0,326.4 L854.2,324.9 L856.4,323.5 L858.7,322.2 L861.1,321.0 L863.5,319.9 L865.9,319.0 L868.4,318.1 L870.9,317.4 L873.4,316.7 L876.0,316.2 L878.6,315.8 L881.3,315.5 L884.1,315.4 L887.0,315.3 L889.9,315.4 L892.7,315.5 L895.4,315.8 L898.0,316.2 L900.6,316.7 L903.1,317.4 L905.6,318.1 L908.1,319.0 L910.5,319.9 L912.9,321.0 L915.3,322.2 L917.6,323.5 L919.8,324.9 L922.0,326.4 L924.2,328.1 L926.3,329.8 L928.4,331.6 L930.4,333.5 L932.4,335.5 L934.3,337.6 L936.1,339.8 L937.9,342.1 L939.6,344.5 L941.3,347.0 L942.9,349.5 L944.4,352.1 L945.8,354.9 L947.2,357.6 L948.5,360.5 L949.8,363.4 L951.0,366.4 L952.0,369.5 L953.1,372.6 L954.0,375.8 L954.9,379.0 L955.6,382.4 L956.3,385.7 L957.0,389.1 L957.5,392.6 L958.0,396.1 L958.3,399.7 L958.6,403.3 L958.8,407.0 L959.0,410.8 Z" fill="none" stroke="#e5212b" stroke-width="7"/>
<text x="18.3" y="579.9" textLength="308.7" lengthAdjust="spacingAndGlyphs" style="font-size:20px;font-weight:bold;fill:#bcc6ee">POSTED BY @KOBEISSILETTER</text>
<defs><linearGradient id="inf" x1="831" y1="0" x2="864" y2="0" gradientUnits="userSpaceOnUse">
<stop offset="0" stop-color="#a9bbd0"/><stop offset="0.35" stop-color="#dfe5ec"/><stop offset="0.55" stop-color="#e2cfd6"/><stop offset="0.75" stop-color="#d8727e"/><stop offset="1" stop-color="#c83a4a"/></linearGradient></defs>
<circle cx="847.2" cy="599.2" r="22.1" fill="#17253c"/>
<path d="M847.6 598.8 C851 594.2 852.9 591.2 855.6 591.2 C859.4 591.2 862.2 594.6 862.2 598.8 C862.2 603 859.4 606.4 855.6 606.4 C852.9 606.4 851 603.4 847.6 598.8 C844.2 594.2 842.3 591.2 839.6 591.2 C835.8 591.2 832.9 594.6 832.9 598.8 C832.9 603 835.8 606.4 839.6 606.4 C842.3 606.4 844.2 603.4 847.6 598.8 Z" fill="none" stroke="url(#inf)" stroke-width="3.6"/>
<text x="883.3" y="609.4" textLength="133.4" lengthAdjust="spacingAndGlyphs" style="font-size:21.8px;fill:#ededed;stroke:#ededed;stroke-width:1.0px;letter-spacing:0.3px">Augur Infinity</text>
</svg>
</body></html>
